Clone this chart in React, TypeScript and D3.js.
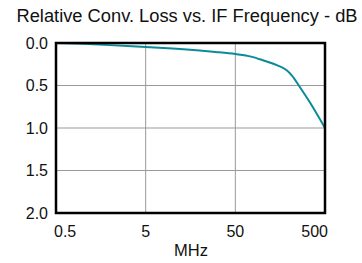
import React from "react"
import * as d3 from "d3"

// IF frequency (MHz) and relative conversion loss (dB)
const freqs = [0.5, 1, 2, 5, 10, 20, 30, 50, 75, 100, 145, 187, 213, 263, 340, 500]
const loss = [0.0, 0.01, 0.025, 0.048, 0.065, 0.088, 0.105, 0.13, 0.16, 0.2, 0.26, 0.32, 0.38, 0.52, 0.7, 1.0]
const xTicks = [0.5, 5, 50, 500]
const yTicks = [0, 0.5, 1.0, 1.5, 2.0]

const W = 362
const H = 263
const m = { left: 56, right: 37, top: 43, bottom: 50 }

const App = () => {
  const x = d3.scaleLog().domain([0.5, 500]).range([m.left, W - m.right])
  const y = d3.scaleLinear().domain([0, 2]).range([m.top, H - m.bottom])

  const line = d3.line<number>()
    .x((d, i) => x(freqs[i]))
    .y(d => y(d))
    .curve(d3.curveMonotoneX)

  const font = "Arial, 'Liberation Sans', Helvetica, sans-serif"

  return (
    <svg width={W} height={H} style={{ position: "absolute", left: 0, top: 0 }} fontFamily={font}>
      <text x={187} y={22} fontSize={18.3} textAnchor="middle" fill="#111">Relative Conv. Loss vs. IF Frequency - dB</text>

      {xTicks.map(t => (
        <line key={"gx" + t} x1={x(t)} x2={x(t)} y1={m.top} y2={H - m.bottom} stroke="#999" strokeWidth={1} />
      ))}
      {yTicks.map(t => (
        <line key={"gy" + t} x1={m.left} x2={W - m.right} y1={y(t)} y2={y(t)} stroke="#999" strokeWidth={1} />
      ))}

      <path d={line(loss) || ""} fill="none" stroke="#0b8a98" strokeWidth={2} />

      <rect x={m.left} y={m.top} width={W - m.left - m.right} height={H - m.top - m.bottom}
        fill="none" stroke="#000" strokeWidth={2.5} />

      {yTicks.map(t => (
        <text key={"ly" + t} x={m.left - 8} y={y(t)} dy="0.36em" fontSize={16} textAnchor="end" fill="#111">
          {d3.format(".1f")(t)}
        </text>
      ))}
      {xTicks.map((t, i) => (
        <text key={"lx" + t}
          x={i === 0 ? x(t) - 2 : i === xTicks.length - 1 ? x(t) + 3 : x(t)}
          y={237} fontSize={16}
          textAnchor={i === 0 ? "start" : i === xTicks.length - 1 ? "end" : "middle"} fill="#111">
          {t}
        </text>
      ))}
      <text x={191} y={256} fontSize={16.5} textAnchor="middle" fill="#111">MHz</text>
    </svg>
  )
}

export default App
